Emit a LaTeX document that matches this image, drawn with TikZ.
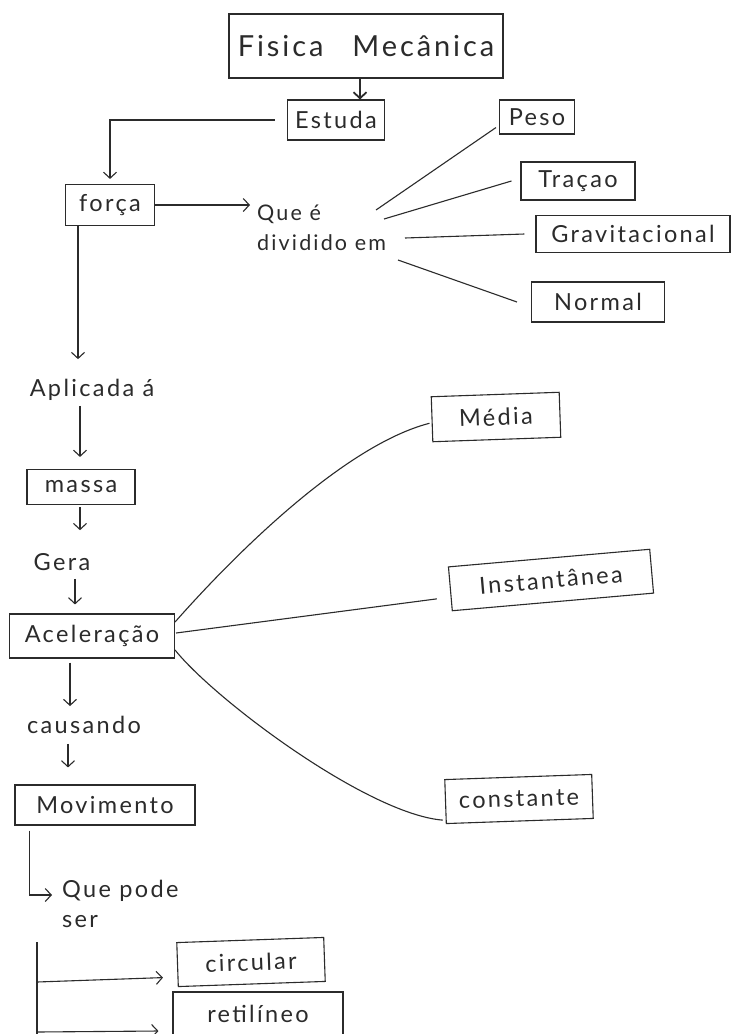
\documentclass[tikz,border=0pt]{standalone}
\usepackage{fontspec}
\setmainfont{Lato}[LetterSpace=10]
\usetikzlibrary{arrows.meta,calc}
\definecolor{inkc}{HTML}{2B2B2B}
\begin{document}
\begin{tikzpicture}[x=1pt,y=-1pt,
  ink/.style={draw=inkc, line width=1.1pt},
  box/.style={ink, inner sep=0pt, text=inkc, font=\fontsize{23.5}{26}\selectfont},
  lbl/.style={text=inkc, inner sep=0pt, font=\fontsize{23.5}{30}\selectfont},
  link/.style={ink},
  arr/.style={ink, -{Straight Barb[length=6pt,width=13pt]}},
]
\fill[white] (0,0) rectangle (733,1034);
\useasboundingbox (0,0) rectangle (733,1034);

% concept boxes and labels
\node[box, minimum width=274, minimum height=64, font=\fontsize{29}{34}\selectfont] (fis) at (366,46) {Fisica\quad Mecânica};
\node[box, minimum width=97, minimum height=40] (est) at (336,120) {Estuda};
\node[box, minimum width=89, minimum height=41] (for) at (110,205) {força};
\node[lbl, anchor=west, align=left, font=\fontsize{21.5}{30}\selectfont] (que) at (257,228) {Que é\\dividido em};
\node[box, minimum width=75, minimum height=34] (peso) at (537,117) {Peso};
\node[box, minimum width=114, minimum height=38] (trac) at (578,181) {Traçao};
\node[box, minimum width=194, minimum height=37] (grav) at (633,234) {Gravitacional};
\node[box, minimum width=133, minimum height=40] (norm) at (598,302) {Normal};
\node[lbl] (apl) at (92,390) {Aplicada á};
\node[box, minimum width=108, minimum height=35] (mas) at (81,487) {massa};
\node[lbl] (gera) at (62,562) {Gera};
\node[box, minimum width=165, minimum height=44] (acel) at (92,636) {Aceleração};
\node[lbl] (caus) at (84,725) {causando};
\node[box, minimum width=180, minimum height=40] (mov) at (105,805) {Movimento};
\node[lbl, anchor=north west, align=left] (qps) at (62,880) {Que pode\\ser};
\node[box, minimum width=147, minimum height=44, rotate=2] (circ) at (251,962) {circular};
\node[box, minimum width=170, minimum height=44] (ret) at (258,1014) {retilíneo};
\node[box, minimum width=128, minimum height=45, rotate=2] (med) at (496,417) {Média};
\node[box, minimum width=202, minimum height=44, rotate=5] (inst) at (551,580) {Instantânea};
\node[box, minimum width=147, minimum height=44, rotate=2] (cons) at (519,799) {constante};

% free ends of the branching lines
\coordinate (q1) at (376,210);
\coordinate (q2) at (384,219);
\coordinate (q3) at (405,238);
\coordinate (q4) at (398,260);
\coordinate (vtop) at (37,942);
\coordinate (vbot) at (37,1034);

% main chain
\draw[arr, line width=1.8pt] ($(fis.south)+(-6,0)$) -- ($(fis.south |- est.north)+(-6,0)$);
\draw[arr] ($(est.west)+(-12,0)$) -| ($(for.north)+(0,-5)$);
\draw[arr, shorten >=7pt] (for.east) -- (for.east -| que.west);
\draw[link] (q1) -- ([xshift=-3pt,yshift=7pt]peso.south west);
\draw[link] (q2) -- ([xshift=-9pt]trac.west);
\draw[link] (q3) -- ([xshift=-11pt]grav.west);
\draw[link] (q4) -- ([xshift=-14pt]norm.west);

\draw[arr, shorten >=20pt] ($(for.south)+(-32,0)$) -- ($(apl.north)+(-14,0)$);
\draw[arr, shorten <=5pt, shorten >=12pt] ($(apl.south)+(-12,0)$) -- ($(mas.north)+(-1,0)$);
\draw[arr, shorten <=2pt, shorten >=23pt] ($(mas.south)+(-1,0)$) -- ($(gera.north)+(18,0)$);
\draw[arr, shorten <=8pt, shorten >=9pt] ($(gera.south)+(13,0)$) -- ($(acel.north)+(-17,0)$);
\draw[arr, shorten <=4pt, shorten >=10pt] ($(acel.south)+(-22,0)$) -- ($(caus.north)+(-14,0)$);
\draw[arr, shorten <=10pt, shorten >=17pt] ($(caus.south)+(-16,0)$) -- ($(mov.north)+(-37,0)$);
\draw[arr] ($(mov.south west)+(15,5)$) |- ($(qps.north west)+(-10,15)$);

% kinds of movement
\draw[link] (vtop) -- (vbot);
\draw[arr] ($(vtop)+(0,40)$) -- ([xshift=-14pt,yshift=-13pt]circ.west);
\draw[arr] ($(vtop)+(0,90)$) -- ([xshift=-14pt,yshift=-17pt]ret.west);

% kinds of acceleration
\draw[link] ($(acel.east)+(0,-14)$) .. controls +(60,-68) and +(-85,22) .. ($(med.west)+(-2,4)$);
\draw[link] ($(acel.east)+(1,-3)$) -- ([xshift=-13pt,yshift=-10pt]inst.west);
\draw[link] ($(acel.east)+(0,14)$) .. controls +(40,50) and +(-75,-6) .. ([xshift=-3pt,yshift=4pt]cons.south west);
\end{tikzpicture}
\end{document}
